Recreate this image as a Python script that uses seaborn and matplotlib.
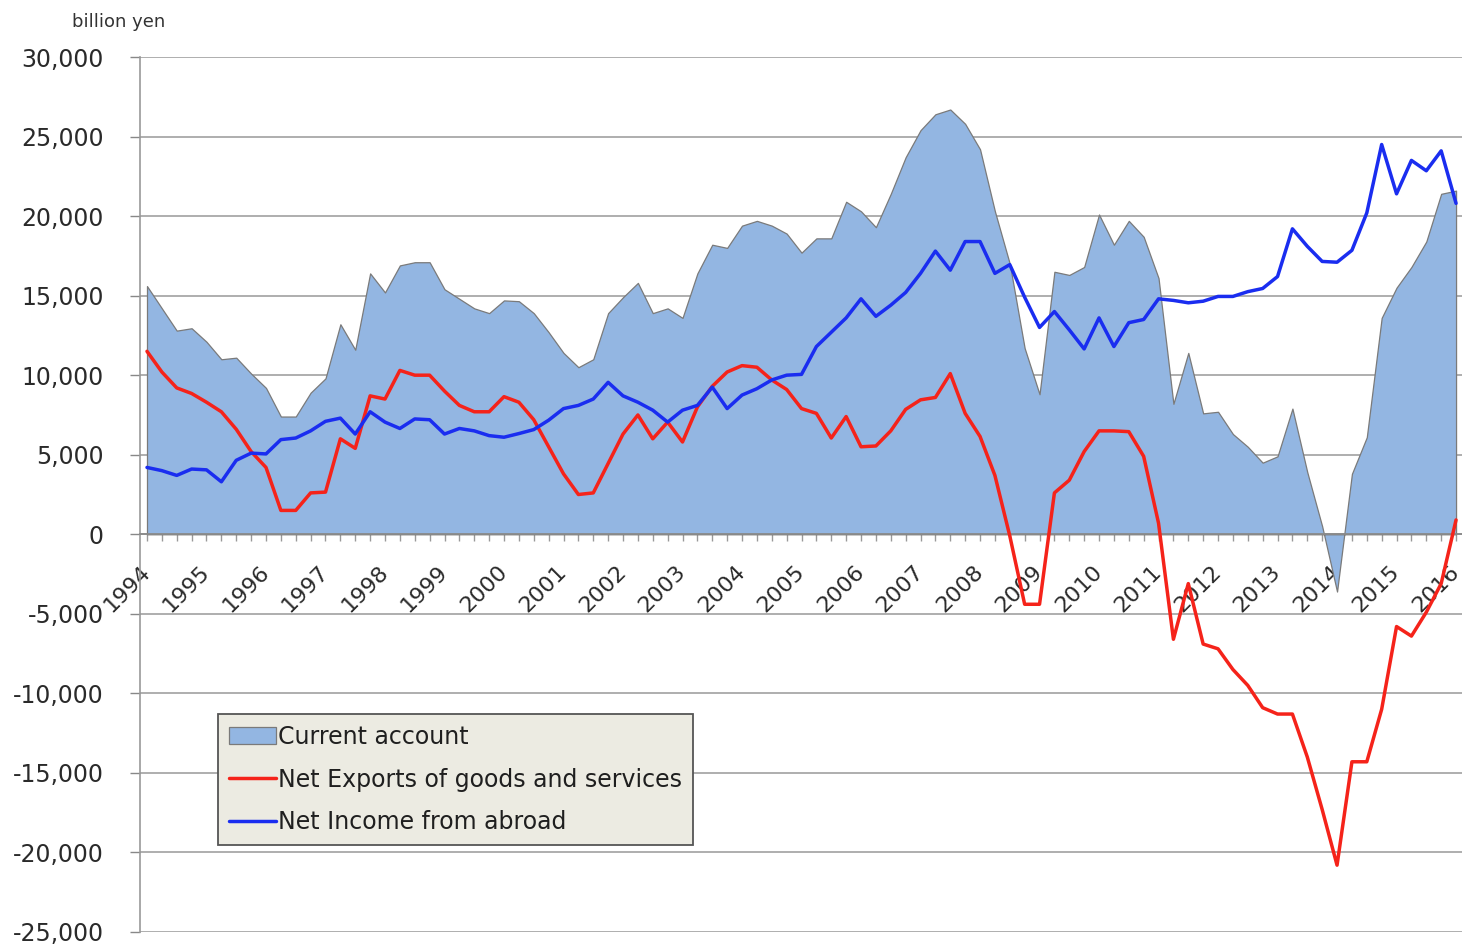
import numpy as np
import pandas as pd
import matplotlib
matplotlib.use("Agg")
import matplotlib.pyplot as plt
import seaborn as sns
from matplotlib.patches import Patch
from matplotlib.lines import Line2D
from matplotlib.ticker import FuncFormatter, MultipleLocator, FixedLocator

# ---- data (quarterly, 1994Q1 .. 2016Q1), billion yen ----
years = [str(y) for y in range(1994, 2017)]

current_account = [
    15600, 14200, 12800, 12950, 12100, 11000, 11100, 10100, 9200, 7400,
    7400, 8900, 9800, 13200, 11600, 16400, 15200, 16900, 17100, 17100,
    15400, 14800, 14200, 13900, 14700, 14650, 13900, 12700, 11400, 10500,
    11000, 13900, 14900, 15800, 13900, 14200, 13600, 16400, 18200, 18000,
    19400, 19700, 19400, 18900, 17700, 18600, 18600, 20900, 20300, 19300,
    21400, 23700, 25400, 26400, 26700, 25800, 24200, 20300, 17000, 11700,
    8800, 16500, 16300, 16800, 20100, 18200, 19700, 18700, 16100, 8200,
    11400, 7600, 7700, 6300, 5500, 4500, 4900, 7900, 3900, 500,
    -3600, 3800, 6100, 13600, 15500, 16800, 18400, 21400, 21600,
]

net_exports = [
    11500, 10200, 9200, 8850, 8300, 7700, 6600, 5200, 4200, 1500,
    1500, 2600, 2650, 6000, 5400, 8700, 8500, 10300, 10000, 10000,
    9000, 8100, 7700, 7700, 8650, 8300, 7200, 5500, 3800, 2500,
    2600, 4450, 6300, 7500, 6000, 7050, 5800, 8000, 9300, 10200,
    10600, 10500, 9700, 9100, 7900, 7600, 6050, 7400, 5500, 5550,
    6500, 7850, 8450, 8600, 10100, 7600, 6150, 3700, -100, -4400,
    -4400, 2600, 3400, 5200, 6500, 6500, 6450, 4900, 700, -6600,
    -3100, -6900, -7200, -8500, -9500, -10900, -11300, -11300, -14000, -17300,
    -20800, -14300, -14300, -11000, -5800, -6400, -4900, -3100, 900,
]

net_income = [
    4200, 4000, 3700, 4100, 4050, 3300, 4650, 5100, 5050, 5950,
    6050, 6500, 7100, 7300, 6300, 7700, 7050, 6650, 7250, 7200,
    6300, 6650, 6500, 6200, 6100, 6330, 6580, 7170, 7900, 8100,
    8500, 9550, 8700, 8300, 7800, 7050, 7800, 8100, 9250, 7900,
    8750, 9150, 9700, 10000, 10050, 11800, 12700, 13600, 14800, 13700,
    14400, 15200, 16400, 17800, 16600, 18400, 18400, 16400, 16950, 14900,
    13000, 14000, 12850, 11650, 13600, 11800, 13300, 13500, 14800, 14700,
    14550, 14650, 14950, 14950, 15250, 15450, 16200, 19200, 18100, 17150,
    17100, 17850, 20200, 24500, 21400, 23500, 22850, 24100, 20800,
]

labels = ["Current account", "Net Exports of goods and services", "Net Income from abroad"]

df = pd.DataFrame({
    "q": np.arange(len(current_account)),
    "ca": current_account,
    "nx": net_exports,
    "ni": net_income,
})

# ---- style ----
sns.set_style("white")
plt.rcParams["font.family"] = ["DejaVu Sans"]

AREA = "#93b6e2"
RED = "#f5231a"
BLUE = "#1a2df0"
GRID = "#a8a8a8"

fig = plt.figure(figsize=(14.62, 9.47), dpi=100)
ax = fig.add_axes([140 / 1462, 1 - 932 / 947, 1 - 140 / 1462, (932 - 57) / 947])

# area
ax.fill_between(df["q"], 0, df["ca"], facecolor=AREA, edgecolor="#7a7a7a",
                linewidth=0.9, zorder=2)
# lines
sns.lineplot(data=df, x="q", y="nx", ax=ax, color=RED, linewidth=2.5, zorder=3)
sns.lineplot(data=df, x="q", y="ni", ax=ax, color=BLUE, linewidth=2.5, zorder=4)

ax.set_xlim(-0.47, 88.4)
ax.set_ylim(-25000, 30000)
ax.set_xlabel("")
ax.set_ylabel("")

# y axis
ax.yaxis.set_major_locator(MultipleLocator(5000))
ax.yaxis.set_major_formatter(FuncFormatter(lambda v, p: f"{int(v):,}".replace("\u2212", "-")))
ax.yaxis.grid(True, color=GRID, linewidth=1.3, zorder=0)
ax.set_axisbelow(True)
ax.tick_params(axis="y", which="major", direction="out", length=7, width=1,
               color="#888888", pad=19, labelsize=17, labelcolor="#2a2a2a", left=True)

# x axis at zero
for s in ["top", "right"]:
    ax.spines[s].set_visible(False)
ax.spines["left"].set_color("#999999")
ax.spines["left"].set_linewidth(1.2)
ax.spines["bottom"].set_position(("data", 0))
ax.spines["bottom"].set_color("#8a8a8a")
ax.spines["bottom"].set_linewidth(1.3)
ax.spines["bottom"].set_zorder(2.5)

ax.xaxis.set_major_locator(FixedLocator(np.arange(0, len(years) * 4, 4)))
ax.xaxis.set_minor_locator(MultipleLocator(1))
ax.set_xticklabels(years, rotation=45, ha="right", va="center",
                   rotation_mode="anchor")
ax.tick_params(axis="x", which="both", direction="out", length=5, width=1,
               color="#999999", bottom=True)
ax.tick_params(axis="x", which="major", pad=20, labelsize=16, labelcolor="#2a2a2a")

# unit label
fig.text(119 / 1462, 1 - 22 / 947, "billion yen", ha="center", va="center",
         fontsize=13, color="#333333")

# legend
handles = [
    Patch(facecolor=AREA, edgecolor="#7a7a7a", linewidth=0.9),
    Line2D([0], [0], color=RED, linewidth=2.5),
    Line2D([0], [0], color=BLUE, linewidth=2.5),
]
leg = ax.legend(handles, labels, loc="upper left",
                bbox_to_anchor=((218 - 140) / 1322, (932 - 714) / 875),
                borderaxespad=0, fontsize=17, frameon=True, fancybox=False,
                facecolor="#ecebe2", edgecolor="#555555", framealpha=1,
                handlelength=2.0, handletextpad=0.1, labelspacing=0.8,
                borderpad=0.45)
leg.get_frame().set_linewidth(1.3)
for t in leg.get_texts():
    t.set_color("#1f1f1f")

fig.savefig("out.png", dpi=100)
